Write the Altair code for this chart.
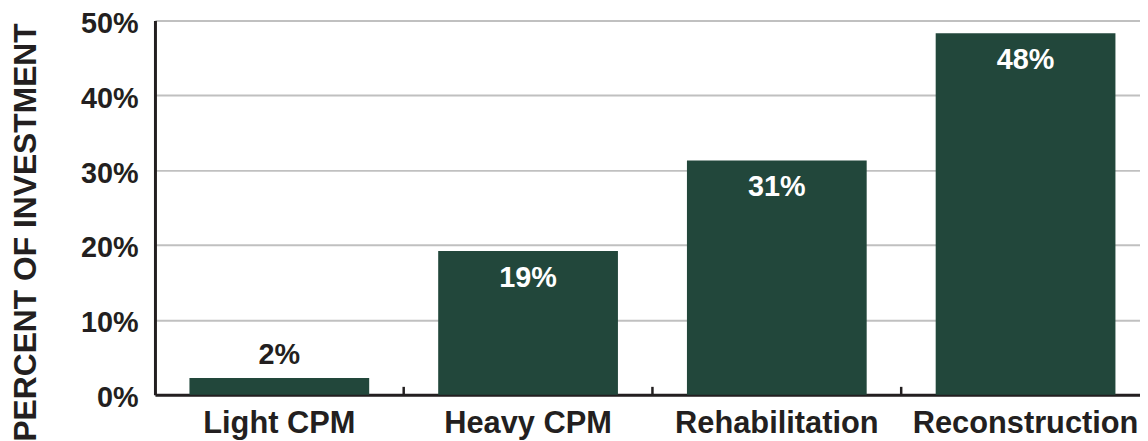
import altair as alt
import pandas as pd

categories = ["Light CPM", "Heavy CPM", "Rehabilitation", "Reconstruction"]
values = [2.25, 19.2, 31.3, 48.3]
labels = ["2%", "19%", "31%", "48%"]
inside = [False, True, True, True]
tick_cats = ["Heavy CPM", "Rehabilitation", "Reconstruction"]

df = pd.DataFrame({"cat": categories, "val": values, "lab": labels, "inside": inside})
ticks_df = pd.DataFrame({"cat": tick_cats})

DARK = "#231f20"
GREEN = "#22473b"
FONT = "Liberation Sans"
NARROW = "'Liberation Sans Narrow', 'Liberation Sans'"

# band step 250.5 px inside a 992 px plot (last band runs past the right edge)
xscale = alt.Scale(domain=categories, paddingInner=0.2774, paddingOuter=0.1187, align=0.584)
yscale = alt.Scale(domain=[0, 50], nice=False, zero=True)

x_enc = alt.X("cat:N", scale=xscale, sort=categories,
              axis=alt.Axis(title=None, labelAngle=0, labelFontSize=31, labelFont=FONT,
                            labelFontWeight="bold", labelColor=DARK, ticks=False,
                            labelPadding=38, labelBaseline="alphabetic", labelLimit=0,
                            domainColor=DARK, domainWidth=3, grid=False))

bars = alt.Chart(df).mark_bar(color=GREEN).encode(
    x=x_enc,
    y=alt.Y("val:Q", scale=yscale,
            axis=alt.Axis(title="PERCENT OF INVESTMENT", values=[0, 10, 20, 30, 40, 50],
                          labelExpr="datum.value + '%'", labelFontSize=29, labelFont=FONT,
                          labelFontWeight="bold", labelColor=DARK, ticks=False,
                          labelPadding=17, labelOffset=3,
                          domainColor=DARK, domainWidth=3,
                          gridColor="#c0c0c0", gridWidth=2,
                          titleFontSize=32, titleFont=FONT, titleFontWeight="bold",
                          titleColor=DARK, titleAngle=270, titleX=-120, titleY=213,
                          titleAlign="center", titleBaseline="alphabetic", titleLimit=0)),
)

text_in = alt.Chart(df).transform_filter("datum.inside").mark_text(
    font=NARROW, fontWeight="bold", fontSize=29, color="white",
    baseline="middle", dy=27).encode(
    x=alt.X("cat:N", scale=xscale, sort=categories),
    y=alt.Y("val:Q", scale=yscale),
    text="lab:N",
)

text_out = alt.Chart(df).transform_filter("!datum.inside").mark_text(
    font=NARROW, fontWeight="bold", fontSize=29, color=DARK,
    baseline="middle", dy=-23).encode(
    x=alt.X("cat:N", scale=xscale, sort=categories),
    y=alt.Y("val:Q", scale=yscale),
    text="lab:N",
)

tick_rules = alt.Chart(ticks_df).mark_rule(color=DARK, strokeWidth=2.5, xOffset=-125.25).encode(
    x=alt.X("cat:N", scale=xscale, sort=categories),
    y=alt.value(369),
    y2=alt.value(377),
)

chart = alt.layer(bars, tick_rules, text_in, text_out).properties(
    width=992, height=377,
    autosize=alt.AutoSizeParams(type="none"),
    padding={"left": 148, "top": 11, "right": 0, "bottom": 45},
    background="white",
).configure_view(stroke=None)

chart.save("out.html", embed_options={"renderer": "svg", "actions": False})
